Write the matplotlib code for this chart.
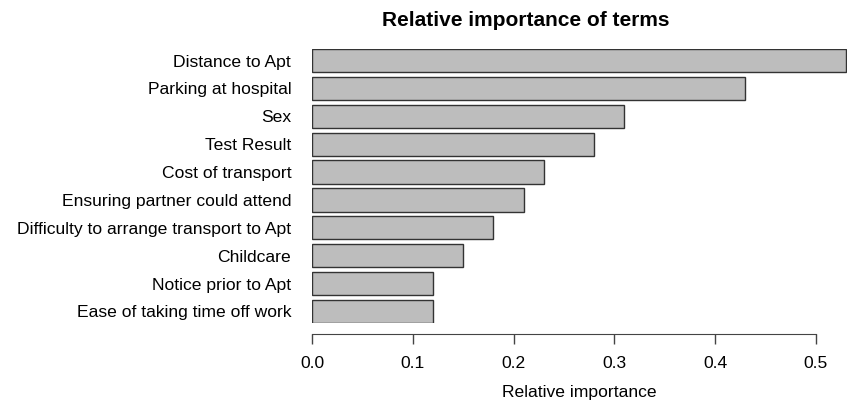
import matplotlib
matplotlib.use("Agg")
import matplotlib.pyplot as plt

plt.rcParams["font.family"] = ["Liberation Sans", "DejaVu Sans"]

terms = ["Distance to Apt", "Parking at hospital", "Sex", "Test Result",
         "Cost of transport", "Ensuring partner could attend",
         "Difficulty to arrange transport to Apt", "Childcare",
         "Notice prior to Apt", "Ease of taking time off work"]
importance = [0.53, 0.43, 0.31, 0.28, 0.23, 0.21, 0.18, 0.15, 0.12, 0.12]
xticks = [0.0, 0.1, 0.2, 0.3, 0.4, 0.5]

fig = plt.figure(figsize=(8.49, 4.08), dpi=100)
ax = fig.add_axes([312 / 849, 1 - 323 / 408, 535 / 849, 274 / 408])

h = 0.83
pos = list(range(len(terms)))
ax.barh(pos, importance, height=h, color="#bdbdbd", edgecolor="#333333", linewidth=1.0)
ax.set_ylim(len(terms) - 1 + h / 2, -h / 2)
ax.set_xlim(0, 0.531)

ax.set_yticks(pos)
ax.set_yticklabels(terms)
ax.tick_params(axis="y", length=0, pad=15, labelsize=12.6)

ax.set_xticks(xticks)
ax.set_xticklabels([f"{v:.1f}" for v in xticks])
ax.tick_params(axis="x", length=7, width=1, color="#444444", pad=9, labelsize=12.6)

for s in ["top", "right", "left"]:
    ax.spines[s].set_visible(False)
ax.spines["bottom"].set_position(("outward", 8))
ax.spines["bottom"].set_bounds(0, 0.5)
ax.spines["bottom"].set_color("#444444")

ax.set_xlabel("Relative importance", fontsize=12.6, labelpad=10)
fig.text(526 / 849, 1 - 20 / 408, "Relative importance of terms",
         ha="center", va="center", fontsize=15, fontweight="bold")

fig.savefig("out.png", dpi=100)
